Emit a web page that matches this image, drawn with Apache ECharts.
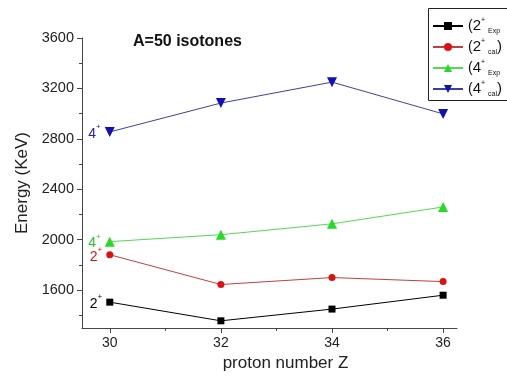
<!DOCTYPE html>
<html><head><meta charset="utf-8">
<script src="https://cdn.jsdelivr.net/npm/echarts@6/dist/echarts.min.js"></script>
<style>html,body{margin:0;padding:0;background:#fff}#c{width:507px;height:377px}</style>
</head><body><div id="c"></div>
<script>
var protonZ = [30, 32, 34, 36];
var e2Exp = [1505, 1357, 1450, 1560];
var e2Cal = [1881, 1645, 1700, 1668];
var e4Exp = [1985, 2040, 2126, 2260];
var e4Cal = [2855, 3084, 3250, 2998];
var yMajorTicks = [1600, 2000, 2400, 2800, 3200, 3600];
var yMinorTicks = [1400, 1800, 2200, 2600, 3000, 3400];
var xMajorTicks = [30, 32, 34, 36];
var xMinorTicks = [31, 33, 35];
var seriesNames = ['2+ Exp', '2+ cal', '4+ Exp', '4+ cal'];
var levelLabels = ['2', '2', '4', '4'];
var legendTexts = ['({n|2}{sup|+}{sub|Exp}', '({n|2}{sup|+}{sub|cal}{n|)}', '({n|4}{sup|+}{sub|Exp}', '({n|4}{sup|+}{sub|cal}{n|)}'];

var lineColors = ['#000000', '#c04040', '#55d855', '#40409a'];
var markColors = ['#000000', '#e01010', '#22dd22', '#1010b8'];
var labelColors = ['#000000', '#d01818', '#22c822', '#2424b0'];
var symbols = ['rect', 'circle', 'triangle', 'triangle'];
var symSizes = [7, 7, 10, 10];
var symRot = [0, 0, 0, 180];
var values = [e2Exp, e2Cal, e4Exp, e4Cal];

var font = '"Liberation Sans", Arial, sans-serif';
var series = values.map(function (vals, i) {
  return {
    name: seriesNames[i],
    type: 'line',
    xAxisIndex: 0, yAxisIndex: 0,
    symbol: symbols[i], symbolSize: symSizes[i], symbolRotate: symRot[i],
    lineStyle: { color: lineColors[i], width: 1 },
    itemStyle: { color: markColors[i] },
    data: vals.map(function (v, j) {
      var d = { value: [protonZ[j], v] };
      if (j === 0) {
        d.label = {
          show: true, position: 'left', distance: 4,
          formatter: '{n|' + levelLabels[i] + '}{sup|+}',
          rich: {
            n: { fontSize: 14, color: labelColors[i], fontFamily: font, lineHeight: 18, verticalAlign: 'bottom' },
            sup: { fontSize: 8, color: labelColors[i], fontFamily: font, lineHeight: 18, verticalAlign: 'top' }
          }
        };
      }
      return d;
    }),
    z: 3
  };
});

var chart = echarts.init(document.getElementById('c'), null, { renderer: 'canvas' });
chart.setOption({
  animation: false,
  backgroundColor: '#ffffff',
  title: {
    text: 'A=50 isotones', left: 128, top: 29,
    textStyle: { fontFamily: font, fontSize: 16, fontWeight: 'bold', color: '#111' }
  },
  graphic: [{
    type: 'rect', z: 100,
    shape: { x: 428.5, y: 8.5, width: 120, height: 92 },
    style: { fill: 'none', stroke: '#222', lineWidth: 1 }
  }],
  legend: {
    orient: 'vertical', left: 428, top: 8,
    padding: [9, 4, 6, 4], itemGap: 3,
    itemWidth: 30, itemHeight: 10,
    data: seriesNames,
    formatter: function (name) { return legendTexts[seriesNames.indexOf(name)]; },
    textStyle: {
      fontFamily: font, fontSize: 14, color: '#111',
      rich: {
        n: { fontSize: 15, fontFamily: font, color: '#111', lineHeight: 18, verticalAlign: 'middle' },
        sup: { fontSize: 7, fontFamily: font, color: '#111', lineHeight: 18, verticalAlign: 'top' },
        sub: { fontSize: 7, fontFamily: font, color: '#111', lineHeight: 18, verticalAlign: 'bottom', padding: [0, 0, 0, 3] }
      }
    }
  },
  grid: { left: 82, right: 50, top: 38, bottom: 49 },
  xAxis: [{
    type: 'value', min: 29.5, max: 36.25,
    name: 'proton number Z', nameLocation: 'middle', nameGap: 23,
    nameTextStyle: { fontFamily: font, fontSize: 17, color: '#222', padding: [0, 0, 0, 32] },
    axisLine: { show: true, onZero: false, lineStyle: { color: '#444', width: 1 } },
    axisTick: { show: true, length: 5, customValues: xMajorTicks, lineStyle: { color: '#444' } },
    axisLabel: { show: true, customValues: xMajorTicks, fontFamily: font, fontSize: 14, color: '#222', margin: 8 },
    splitLine: { show: false }
  }, {
    type: 'value', min: 29.5, max: 36.25, position: 'bottom',
    axisLine: { show: false },
    axisTick: { show: true, length: 3, customValues: xMinorTicks, lineStyle: { color: '#444' } },
    axisLabel: { show: false },
    splitLine: { show: false }
  }],
  yAxis: [{
    type: 'value', min: 1300, max: 3600,
    name: 'Energy (KeV)', nameLocation: 'middle', nameGap: 48,
    nameTextStyle: { fontFamily: font, fontSize: 17, color: '#222' },
    axisLine: { show: true, onZero: false, lineStyle: { color: '#444', width: 1 } },
    axisTick: { show: true, length: 5, customValues: yMajorTicks, lineStyle: { color: '#444' } },
    axisLabel: { show: true, customValues: yMajorTicks, formatter: function (v) { return String(v); }, fontFamily: font, fontSize: 14.5, color: '#222', margin: 8 },
    splitLine: { show: false }
  }, {
    type: 'value', min: 1300, max: 3600, position: 'left',
    axisLine: { show: false },
    axisTick: { show: true, length: 3, customValues: yMinorTicks, lineStyle: { color: '#444' } },
    axisLabel: { show: false },
    splitLine: { show: false }
  }],
  series: series
});
</script>
</body></html>
